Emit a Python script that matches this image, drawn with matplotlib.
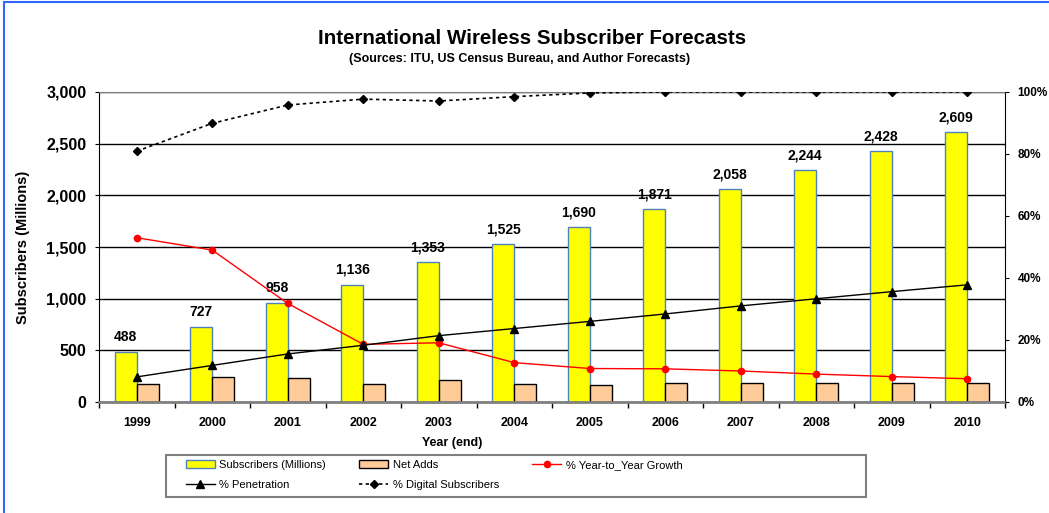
import numpy as np
import matplotlib
matplotlib.use('Agg')
import matplotlib.pyplot as plt
from matplotlib.patches import Rectangle
from matplotlib.ticker import FuncFormatter, FixedLocator

plt.rcParams['font.family'] = ['Liberation Sans', 'DejaVu Sans']

# data
years = ['1999', '2000', '2001', '2002', '2003', '2004', '2005', '2006', '2007', '2008', '2009', '2010']
subscribers = [488, 727, 958, 1136, 1353, 1525, 1690, 1871, 2058, 2244, 2428, 2609]
net_adds = [170, 239, 231, 178, 217, 172, 165, 181, 187, 186, 184, 181]
growth = [53.0, 49.0, 31.8, 18.6, 19.1, 12.7, 10.8, 10.7, 10.0, 9.0, 8.2, 7.5]
penetration = [8.1, 11.8, 15.5, 18.3, 21.4, 23.7, 26.0, 28.4, 31.0, 33.3, 35.6, 37.8]
digital = [80.9, 89.9, 95.8, 97.7, 97.1, 98.5, 99.7, 100, 100, 100, 100, 100]

W, H = 1049, 513
fig = plt.figure(figsize=(W / 100, H / 100), dpi=100)
ax = fig.add_axes([99 / W, 1 - 402 / H, (1005 - 99) / W, (402 - 92) / H])

x = np.arange(len(years))
bw = 0.29
b1 = ax.bar(x - bw / 2, subscribers, bw, color='#FFFF00', edgecolor='#4F81BD', linewidth=1.0,
            label='Subscribers (Millions)', zorder=2)
b2 = ax.bar(x + bw / 2, net_adds, bw, color='#FFCC99', edgecolor='black', linewidth=1.0,
            label='Net Adds', zorder=2)

for xi, v in zip(x, subscribers):
    ax.annotate(f'{v:,}', (xi - bw / 2, v), xytext=(0, 5.5), textcoords='offset points',
                ha='center', va='bottom', fontsize=10, fontweight='bold')

ax.set_xlim(-0.5, len(years) - 0.5)
ax.set_ylim(0, 3000)
ax.set_yticks(np.arange(0, 3001, 500))
ax.yaxis.set_major_formatter(FuncFormatter(lambda v, p: f'{v:,.0f}'))
ax.grid(axis='y', color='black', linewidth=1.0, zorder=0)
ax.set_axisbelow(True)

ax.xaxis.set_major_locator(FixedLocator(np.arange(-0.5, len(years), 1.0)))
ax.xaxis.set_major_formatter(FuncFormatter(lambda v, p: ''))
ax.xaxis.set_minor_locator(FixedLocator(x))
ax.set_xticks(x, years, minor=True)
ax.tick_params(axis='x', which='major', length=4, direction='out', width=1)
ax.tick_params(axis='x', which='minor', length=0, pad=11, labelsize=9)
ax.tick_params(axis='y', length=3, pad=6, labelsize=11.5)
for lab in ax.get_yticklabels() + ax.get_xticklabels(minor=True):
    lab.set_fontweight('bold')

ax.spines['bottom'].set_color('#808080')
ax.spines['bottom'].set_linewidth(2)
ax.spines['top'].set_color('#808080')
ax.spines['left'].set_color('black')
ax.spines['right'].set_color('black')

ax.set_ylabel('Subscribers (Millions)', fontsize=10.5, fontweight='bold')
ax.yaxis.set_label_coords(-0.076, 0.50)

ax2 = ax.twinx()
ax2.set_ylim(0, 100)
ax2.set_yticks(np.arange(0, 101, 20))
ax2.yaxis.set_major_formatter(FuncFormatter(lambda v, p: f'{v:.0f}%'))
ax2.tick_params(axis='y', length=3, pad=6, labelsize=8.5)
for lab in ax2.get_yticklabels():
    lab.set_fontweight('bold')
for s in ax2.spines.values():
    s.set_visible(False)

l1, = ax2.plot(x, growth, color='#FF0000', marker='o', markersize=4.5, linewidth=1.0,
               label='% Year-to_Year Growth')
l2, = ax2.plot(x, penetration, color='black', marker='^', markersize=5.5, linewidth=1.0,
               label='% Penetration')
l3, = ax2.plot(x, digital, color='black', marker='D', markersize=4, linewidth=1.2,
               linestyle=(0, (2, 2)), label='% Digital Subscribers')

fig.text(532 / W, 1 - 39 / H, 'International Wireless Subscriber Forecasts',
         ha='center', va='center', fontsize=14.8, fontweight='bold')
fig.text(520 / W, 1 - 59 / H, '(Sources: ITU, US Census Bureau, and Author Forecasts)',
         ha='center', va='center', fontsize=9, fontweight='bold')
fig.text(452 / W, 1 - 443 / H, 'Year (end)', ha='center', va='center',
         fontsize=9, fontweight='bold')

handles = [b1, l2, b2, l3, l1]
labels = [h.get_label() for h in handles]
fig.legend(handles, labels, loc='upper left', bbox_to_anchor=(186 / W, 1 - 460 / H),
           ncol=3, frameon=False, fontsize=8, borderpad=0, borderaxespad=0,
           handlelength=2.6, handletextpad=0.4, columnspacing=3.0, labelspacing=0.9)

fig.patches.append(Rectangle((166 / W, 1 - 497 / H), 700 / W, 42 / H, transform=fig.transFigure,
                             fill=False, edgecolor='#808080', linewidth=1.5))
fig.patches.append(Rectangle((4 / W, -0.2), 1.5, 1.2 - 2 / H, transform=fig.transFigure,
                             fill=False, edgecolor='#3366FF', linewidth=1.5))

fig.savefig('out.png', dpi=100)
